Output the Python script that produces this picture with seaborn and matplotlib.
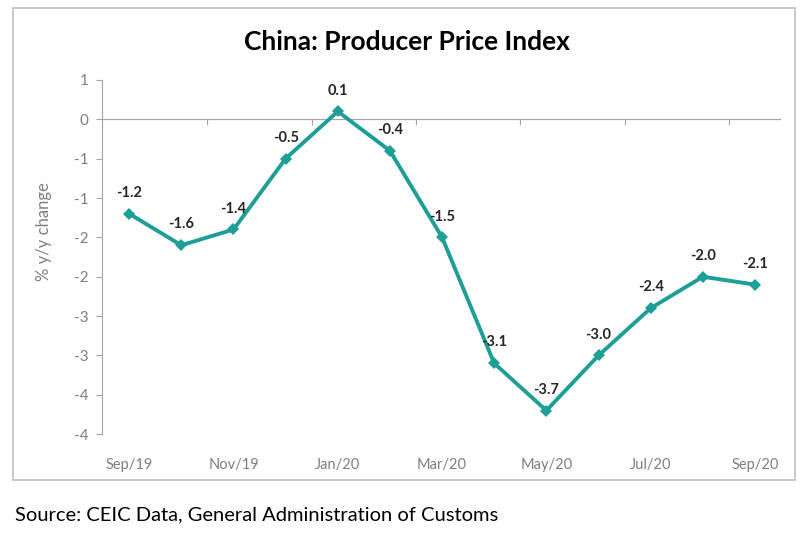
import numpy as np
import pandas as pd
import seaborn as sns
import matplotlib
matplotlib.use("Agg")
import matplotlib.pyplot as plt
from matplotlib.patches import Rectangle
from matplotlib.ticker import FuncFormatter
from decimal import Decimal, ROUND_HALF_UP

sns.set_theme(style="white")
plt.rcParams['font.family'] = ['Lato', 'DejaVu Sans']

months = ['Sep/19', 'Oct/19', 'Nov/19', 'Dec/19', 'Jan/20', 'Feb/20', 'Mar/20',
          'Apr/20', 'May/20', 'Jun/20', 'Jul/20', 'Aug/20', 'Sep/20']
ppi = [-1.2, -1.6, -1.4, -0.5, 0.1, -0.4, -1.5, -3.1, -3.7, -3.0, -2.4, -2.0, -2.1]
y_ticks = [0.5, 0.0, -0.5, -1.0, -1.5, -2.0, -2.5, -3.0, -3.5, -4.0]

_LINE = '#1d9e97'
_GRAY = '#7f7f7f'
_AXIS = '#a6a6a6'

df = pd.DataFrame({'idx': np.arange(len(months)), 'month': months, 'ppi': ppi})

fig = plt.figure(figsize=(8.1, 5.4), dpi=100)
ax = fig.add_axes([0.126, 0.196, 0.837, 0.656])

sns.lineplot(data=df, x='idx', y='ppi', ax=ax, color=_LINE, linewidth=2.8,
             marker='D', markersize=6, markeredgewidth=0)

for i, v in zip(df['idx'], df['ppi']):
    ax.annotate(f'{v:.1f}', (i, v), xytext=(0, 15), textcoords='offset points',
                ha='center', va='center', fontsize=10.5, fontweight='bold', color='#262626')

ax.set_xlim(-0.52, 12.48)
ax.set_ylim(-4.0, 0.5)

# excel style integer labels on a 0.5 step axis
def fmt(v, pos):
    return str(int(Decimal(str(round(v, 2))).quantize(Decimal('1'), rounding=ROUND_HALF_UP)))

ax.set_yticks(y_ticks)
ax.yaxis.set_major_formatter(FuncFormatter(fmt))
ax.set_xticks(df['idx'][::2])
ax.set_xticklabels(df['month'][::2])
ax.tick_params(axis='x', length=0, pad=17, labelsize=10.5, colors=_GRAY)
ax.tick_params(axis='y', left=True, length=4, width=0.8, color=_AXIS, pad=6,
               labelsize=11, labelcolor=_GRAY)

for s in ['top', 'right', 'bottom']:
    ax.spines[s].set_visible(False)
ax.spines['left'].set_color(_AXIS)
ax.spines['left'].set_linewidth(0.8)

# zero line with category ticks
zero = ax.secondary_xaxis(4.0 / 4.5)
zero.set_xticks(np.arange(1.5, 12, 2))
zero.set_xticklabels([])
zero.xaxis.set_ticks_position('bottom')
zero.tick_params(axis='x', length=4, width=0.8, color=_AXIS, direction='out')
for s in ['top', 'bottom']:
    zero.spines[s].set_visible(True)
    zero.spines[s].set_color(_AXIS)
    zero.spines[s].set_linewidth(0.8)
for s in ['left', 'right']:
    zero.spines[s].set_visible(False)

ax.set_xlabel(None)
ax.set_ylabel('% y/y change', fontsize=12, color=_GRAY)
ax.yaxis.set_label_coords(-0.074, 0.573)
ax.grid(False)

fig.text(0.503, 0.922, 'China: Producer Price Index', ha='center', va='center',
         fontsize=19, fontweight='bold', color='black')
fig.text(0.019, 0.046, 'Source: CEIC Data, General Administration of Customs',
         ha='left', va='center', fontsize=14.5, color='black')

fig.patches.append(Rectangle((0.016, 0.111), 0.965, 0.874, transform=fig.transFigure,
                             fill=False, edgecolor='#bfbfbf', linewidth=1.2))

plt.savefig('out.png', dpi=100)
